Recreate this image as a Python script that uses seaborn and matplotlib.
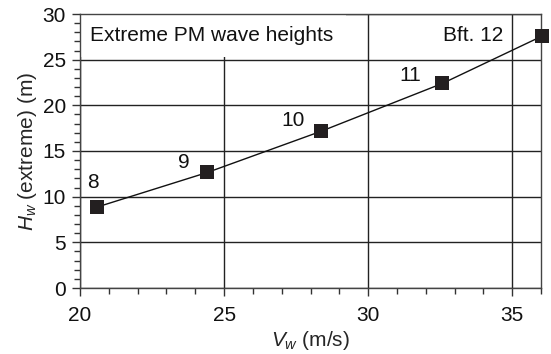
import matplotlib
matplotlib.use("Agg")
import matplotlib.pyplot as plt
import seaborn as sns
import pandas as pd
from matplotlib.ticker import MultipleLocator

wind_speed = [20.58, 24.42, 28.36, 32.58, 36.05]
wave_height = [8.85, 12.65, 17.15, 22.4, 27.6]
point_labels = ["8", "9", "10", "11", "Bft. 12"]

df = pd.DataFrame({"V": wind_speed, "H": wave_height})

sns.set_style("white")
plt.rcParams['font.family'] = ['Liberation Sans', 'DejaVu Sans']
plt.rcParams['mathtext.fontset'] = 'custom'
plt.rcParams['mathtext.rm'] = 'Liberation Sans'
plt.rcParams['mathtext.it'] = 'Liberation Sans:italic'

FS = 15
fig = plt.figure(figsize=(5.51, 3.54), dpi=100)
ax = fig.add_axes([80/551, 1-288/354, 461/551, 274/354])

sns.lineplot(data=df, x="V", y="H", ax=ax, color="#111111", linewidth=1.0,
             marker="s", markersize=10, markeredgewidth=0, markerfacecolor="#231f20",
             clip_on=False, zorder=5)

ax.set_xlim(20, 36)
ax.set_ylim(0, 30)
ax.xaxis.set_major_locator(MultipleLocator(5))
ax.xaxis.set_minor_locator(MultipleLocator(1))
ax.yaxis.set_major_locator(MultipleLocator(5))
ax.yaxis.set_minor_locator(MultipleLocator(1))
ax.grid(True, which="major", color="#222222", linewidth=1.0)
ax.set_axisbelow(True)
ax.tick_params(which="major", direction="out", length=6, width=1, color="#333333",
               labelsize=FS, labelcolor="#111111", bottom=True, left=True)
ax.tick_params(axis="x", which="major", pad=7)
ax.tick_params(axis="y", which="major", pad=4)
ax.tick_params(which="minor", direction="out", length=4, width=1, color="#333333",
               bottom=True, left=True)
for s in ax.spines.values():
    s.set_color("#444444")
    s.set_linewidth(1.0)
    s.set_zorder(3)

ax.set_xlabel("$V_w$ (m/s)", fontsize=FS, labelpad=3)
ax.set_ylabel("$H_w$ (extreme) (m)", fontsize=FS, labelpad=3)

offsets = [(-0.13, 2.74), (-0.81, 1.06), (-0.96, 1.24), (-1.12, 0.91)]
for (x, y, lab, off) in zip(wind_speed[:4], wave_height[:4], point_labels[:4], offsets):
    ax.text(x + off[0], y + off[1], lab, fontsize=FS, ha="center", va="center", color="#111111")
ax.text(34.69, 27.7, point_labels[4], fontsize=FS, ha="right", va="center", color="#111111")

ax.text(20.35, 27.7, "Extreme PM wave heights", fontsize=FS, ha="left", va="center",
        color="#111111", zorder=1.5, clip_on=True,
        bbox=dict(facecolor="white", edgecolor="none", pad=9))

fig.savefig("out.png", dpi=100)
